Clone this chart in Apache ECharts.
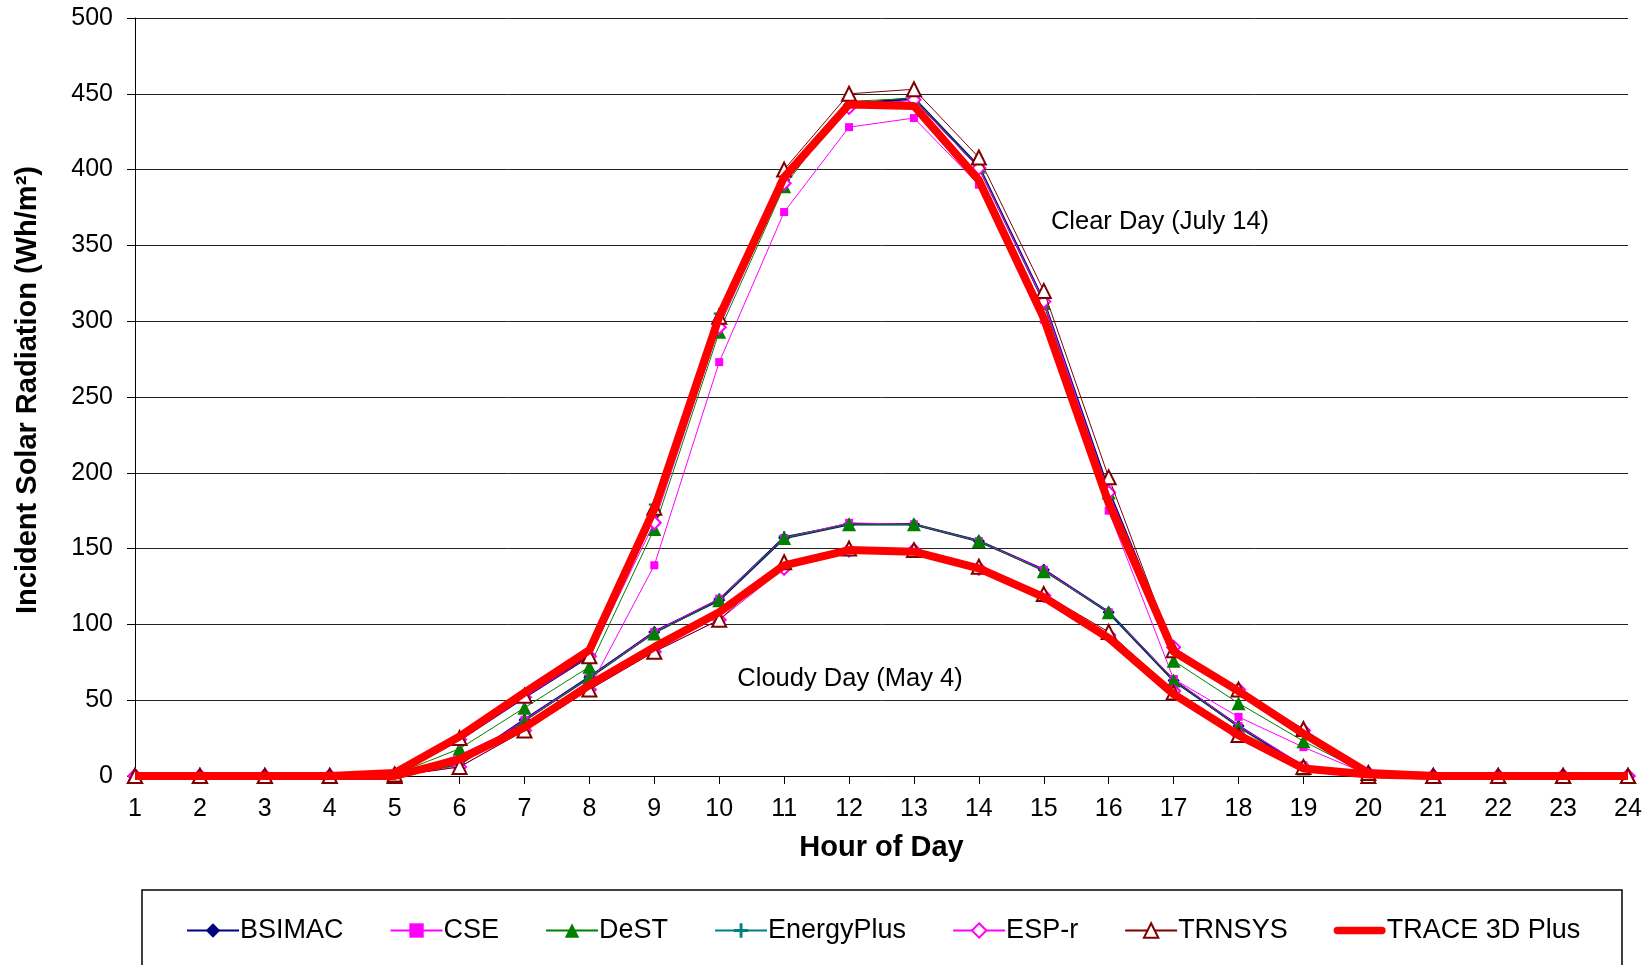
<!DOCTYPE html>
<html>
<head>
<meta charset="utf-8">
<script src="https://cdn.jsdelivr.net/npm/echarts@6/dist/echarts.min.js"></script>
<style>
html,body{margin:0;padding:0;background:#fff;}
#chart{width:1651px;height:965px;}
</style>
</head>
<body>
<div id="chart"></div>
<script>
const hours = ['1','2','3','4','5','6','7','8','9','10','11','12','13','14','15','16','17','18','19','20','21','22','23','24'];

// Clear Day (July 14)
const bsimacClear     = [0,0,0,0,1,24,52,79,172,300,393,443,447,402,313,188,84,57,30,2,0,0,0,0];
const cseClear        = [0,0,0,0,0,14,34,58,139,273,372,428,434,390,301,175,64,39,19,1,0,0,0,0];
const destClear       = [0,0,0,0,1,18,45,72,163,293,389,445,447,402,312,187,76,48,23,1,0,0,0,0];
const energyPlusClear = [0,0,0,0,1,25,53,80,179,305,396,442,446,401,313,188,84,57,30,2,0,0,0,0];
const esprClear       = [0,0,0,0,1,24,52,79,167,296,391,441,446,401,313,187,85,57,30,2,0,0,0,0];
const trnsysClear     = [0,0,0,0,1,25,53,79,177,303,400,450,453,408,320,197,83,57,31,2,0,0,0,0];
const traceClear      = [0,0,0,0,2,26,55,83,176,303,395,443,442,393,302,180,82,56,28,2,0,0,0,0];

// Cloudy Day (May 4)
const bsimacCloudy     = [0,0,0,0,0,8,37,65,95,116,157,166,166,155,136,108,63,33,6,1,0,0,0,0];
const cseCloudy        = [0,0,0,0,0,8,37,65,95,117,157,167,166,155,136,108,64,33,7,1,0,0,0,0];
const destCloudy       = [0,0,0,0,0,7,36,65,94,116,157,166,166,155,135,108,63,32,5,1,0,0,0,0];
const energyPlusCloudy = [0,0,0,0,0,8,37,66,95,117,158,166,166,155,136,108,63,33,6,1,0,0,0,0];
const esprCloudy       = [0,0,0,0,0,6,30,57,82,103,137,149,149,137,119,93,56,27,6,0,0,0,0,0];
const trnsysCloudy     = [0,0,0,0,0,6,30,57,82,103,141,150,149,138,120,95,55,27,6,0,0,0,0,0];
const traceCloudy      = [0,0,0,0,0,11,32,60,85,108,139,149,148,137,118,91,54,27,5,1,0,0,0,0];

const yTicks = [0,50,100,150,200,250,300,350,400,450,500];
const legendNames = ['BSIMAC','CSE','DeST','EnergyPlus','ESP-r','TRNSYS','TRACE 3D Plus'];

const FONT = '"Liberation Sans", Arial, sans-serif';
const plusPath = 'path://M4,0 L6,0 L6,4 L10,4 L10,6 L6,6 L6,10 L4,10 L4,6 L0,6 L0,4 L4,4 Z';
const thickLinePath = 'path://M4,0 L52,0 A4,4 0 0 1 52,8 L4,8 A4,4 0 0 1 4,0 Z';

const styles = {
  'BSIMAC':        {color:'#000080', width:2.5, symbol:'diamond', size:12},
  'CSE':           {color:'#FF00FF', width:1, symbol:'rect', size:8},
  'DeST':          {color:'#008000', width:1, symbol:'triangle', size:14},
  'EnergyPlus':    {color:'#008080', width:1, symbol:plusPath, size:11},
  'ESP-r':         {color:'#FF00FF', width:1, symbol:'emptyDiamond', size:13},
  'TRNSYS':        {color:'#800000', width:1, symbol:'emptyTriangle', size:14},
  'TRACE 3D Plus': {color:'#FF0000', width:8, symbol:'none', size:0}
};

// drawing order (later on top)
const seriesData = [
  ['EnergyPlus', energyPlusClear, energyPlusCloudy],
  ['BSIMAC', bsimacClear, bsimacCloudy],
  ['CSE', cseClear, cseCloudy],
  ['DeST', destClear, destCloudy],
  ['ESP-r', esprClear, esprCloudy],
  ['TRNSYS', trnsysClear, trnsysCloudy],
  ['TRACE 3D Plus', traceClear, traceCloudy]
];

function mk(name, data, z) {
  const s = styles[name];
  const empty = typeof s.symbol === 'string' && s.symbol.indexOf('empty') === 0;
  return {
    name: name,
    type: 'line',
    data: data,
    z: z,
    symbol: s.symbol,
    symbolSize: s.size,
    showSymbol: s.symbol !== 'none',
    showAllSymbol: true,
    lineStyle: {color: s.color, width: s.width},
    itemStyle: empty ? {color: s.color, borderColor: s.color, borderWidth: 1.5}
                     : {color: s.color, borderColor: s.color, borderWidth: 0},
    emphasis: {disabled: true},
    animation: false
  };
}

const series = [];
seriesData.forEach((d, i) => { series.push(mk(d[0], d[2], 2 + i)); });
seriesData.forEach((d, i) => { series.push(mk(d[0], d[1], 2 + i)); });

const chart = echarts.init(document.getElementById('chart'), null, {renderer: 'canvas'});
chart.setOption({
  backgroundColor: '#ffffff',
  animation: false,
  textStyle: {fontFamily: FONT},
  grid: {left: 135, right: 23, top: 18, bottom: 189, containLabel: false},
  xAxis: {
    type: 'category',
    data: hours,
    boundaryGap: false,
    name: 'Hour of Day',
    nameLocation: 'middle',
    nameGap: 57,
    nameTextStyle: {fontFamily: FONT, fontSize: 29, fontWeight: 'bold', color: '#000'},
    axisLine: {lineStyle: {color: '#000', width: 1}},
    axisTick: {show: true, alignWithLabel: true, length: 8, lineStyle: {color: '#000'}},
    axisLabel: {fontFamily: FONT, fontSize: 25, color: '#000', margin: 21, interval: 0},
    splitLine: {show: false}
  },
  yAxis: {
    type: 'value',
    min: yTicks[0],
    max: yTicks[yTicks.length - 1],
    interval: 50,
    name: 'Incident Solar Radiation (Wh/m²)',
    nameLocation: 'middle',
    nameGap: 93,
    nameRotate: 90,
    nameTextStyle: {fontFamily: FONT, fontSize: 29, fontWeight: 'bold', color: '#000', padding: [0,0,0,14]},
    axisLine: {show: true, lineStyle: {color: '#000', width: 1}},
    axisTick: {show: true, length: 8, lineStyle: {color: '#000'}},
    axisLabel: {fontFamily: FONT, fontSize: 25, color: '#000', margin: 22},
    splitLine: {show: true, lineStyle: {color: '#222', width: 1}}
  },
  legend: {
    left: 181,
    top: 912,
    itemWidth: 52,
    itemHeight: 18,
    itemGap: 46,
    data: legendNames.map(n => n === 'TRACE 3D Plus' ? {name: n, icon: thickLinePath} : {name: n}),
    textStyle: {fontFamily: FONT, fontSize: 27, color: '#000', padding: [0,0,0,-4]},
    selectedMode: false
  },
  graphic: [
    {type: 'rect', z: -1, shape: {x: 142, y: 890, width: 1480, height: 120},
     style: {fill: '#fff', stroke: '#000', lineWidth: 1.5}},
    {type: 'text', x: 1160, y: 222, z: 20,
     style: {text: 'Clear Day (July 14)', font: '25.5px ' + FONT, fill: '#000', textAlign: 'center', textVerticalAlign: 'middle'}},
    {type: 'text', x: 850, y: 679, z: 20,
     style: {text: 'Cloudy Day (May 4)', font: '25.5px ' + FONT, fill: '#000', textAlign: 'center', textVerticalAlign: 'middle'}}
  ],
  series: series
});
</script>
</body>
</html>
